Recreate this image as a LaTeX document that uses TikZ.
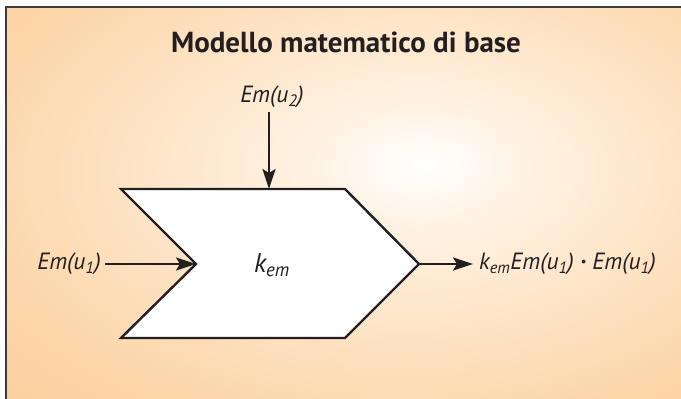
\documentclass[tikz,border=0pt]{standalone}
\usepackage{fontspec}
\setmainfont{PT Sans}
\usetikzlibrary{arrows.meta}
\definecolor{ink}{RGB}{35,31,32}
\definecolor{frame}{RGB}{60,60,60}
\definecolor{bgA}{RGB}{255,242,226}
\definecolor{bgB}{RGB}{252,214,170}
\definecolor{bgC}{RGB}{249,186,118}
\pgfdeclareradialshading{bgshade}{\pgfpoint{6bp}{5bp}}{color(0bp)=(white); color(8bp)=(bgA); color(32bp)=(bgB); color(72bp)=(bgC); color(100bp)=(bgC)}
\tikzset{
  conn/.style={draw=ink, line width=2.4pt, -{Stealth[length=20pt,width=13pt,inset=4pt]}},
  lbl/.style={font=\fontsize{23.5}{28}\selectfont\itshape, text=ink, inner sep=0pt},
  ttl/.style={font=\fontsize{29}{34}\selectfont\bfseries, text=ink, inner sep=0pt},
  blockshape/.style={draw=ink, line width=2.4pt, fill=white, line join=miter}
}
\begin{document}
\begin{tikzpicture}[x=1pt,y=-1pt]
\useasboundingbox (0,0) rectangle (681,399);
\shade[shading=bgshade] (6,7) rectangle (681,399);
\draw[frame, line width=1.5pt] (6,399) -- (6,7) -- (681,7);
\node[ttl] (title) at (346,42) {Modello matematico di base};
% block
\coordinate (tl) at (121,189);
\coordinate (tr) at (345,189);
\coordinate (tip) at (419,264);
\coordinate (br) at (345,338);
\coordinate (bl) at (121,338);
\coordinate (notch) at (196,264);
\coordinate (topin) at (269,189);
\path[blockshape] (tl) -- (tr) -- (tip) -- (br) -- (bl) -- (notch) -- cycle;
\node[lbl, font=\fontsize{27}{30}\selectfont\itshape] (k) at (272,265) {k\textsubscript{em}};
% inputs
\node[lbl] (u2) at (272,97) {Em(u\textsubscript{2})};
\coordinate (u2s) at (269,112);
\draw[conn] (u2s) -- (topin);
\node[lbl, anchor=east] (u1) at (101,264) {Em(u\textsubscript{1})};
\coordinate (u1s) at (105,264);
\draw[conn] (u1s) -- (notch);
% output
\node[lbl, anchor=west] (out) at (479,264) {k\textsubscript{em}Em(u\textsubscript{1}) {\bfseries\textperiodcentered} Em(u\textsubscript{1})};
\coordinate (oute) at (473,264);
\draw[conn] (tip) -- (oute);
\end{tikzpicture}
\end{document}
